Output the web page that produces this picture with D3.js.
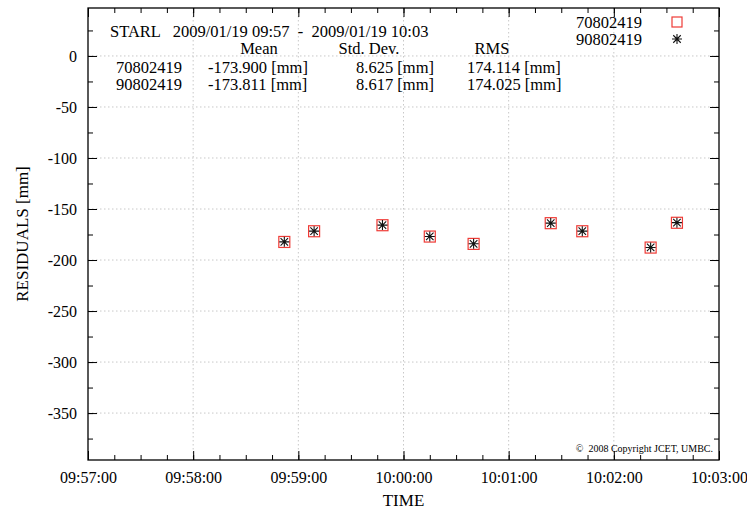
<!DOCTYPE html>
<html lang="en">
<head>
    <meta charset="UTF-8">
    <script src="https://cdn.jsdelivr.net/npm/d3@7"></script>
    <title>STARL residuals</title>
    <style>
        body { margin: 0; background: #ffffff; }
        svg { font-family: "Liberation Serif", "DejaVu Serif", serif; }
        .grid line { stroke: #c8c8c8; stroke-dasharray: 1.5 2.5; }
        .axis path, .axis line { stroke: #000; }
    </style>
</head>
<body>
<svg width="747" height="509"></svg>
<script>
    const WIDTH = 747;
    const HEIGHT = 509;
    const LEFT = 88, RIGHT = 719, TOP = 8, BOTTOM = 460;

    // observation times and residuals (mm) for the two passes
    const times = ["09:58:52", "09:59:09", "09:59:48", "10:00:15", "10:00:40",
                   "10:01:24", "10:01:42", "10:02:21", "10:02:36"];
    const res70802419 = [-182.3, -171.8, -165.9, -177.0, -184.2, -163.9, -171.8, -187.8, -163.5];
    const res90802419 = [-182.2, -171.7, -165.8, -176.9, -184.1, -163.8, -171.7, -187.7, -163.4];

    const series = ["70802419", "90802419"];
    const means = ["-173.900 [mm]", "-173.811 [mm]"];
    const stdDevs = ["8.625 [mm]", "8.617 [mm]"];
    const rmsValues = ["174.114 [mm]", "174.025 [mm]"];

    const xTicks = ["09:57:00", "09:58:00", "09:59:00", "10:00:00", "10:01:00", "10:02:00", "10:03:00"];
    const yTicks = [0, -50, -100, -150, -200, -250, -300, -350];

    const parseT = d3.utcParse("%H:%M:%S");
    const SERIF = "'Liberation Serif', 'DejaVu Serif', serif";

    function init() {
        const svg = d3.select("svg");
        const [x, y] = makeScales();
        drawGrid(svg, x, y);
        drawAxes(svg, x, y);
        drawPoints(svg, x, y);
        drawTexts(svg);
    }

    function makeScales() {
        const x = d3.scaleUtc()
            .domain([parseT(xTicks[0]), parseT(xTicks[xTicks.length - 1])])
            .range([LEFT, RIGHT]);
        const y = d3.scaleLinear()
            .domain([-396, 47])
            .range([BOTTOM, TOP]);
        return [x, y];
    }

    function drawGrid(svg, x, y) {
        const g = svg.append("g").attr("class", "grid");
        g.selectAll("line.v")
            .data(xTicks.slice(1, -1))
            .enter().append("line")
            .attr("x1", d => x(parseT(d))).attr("x2", d => x(parseT(d)))
            .attr("y1", TOP).attr("y2", BOTTOM);
        g.selectAll("line.h")
            .data(yTicks)
            .enter().append("line")
            .attr("x1", LEFT).attr("x2", RIGHT)
            .attr("y1", d => y(d)).attr("y2", d => y(d));
    }

    function serifLabels(g) {
        g.attr("font-family", SERIF).attr("font-size", 16);
        g.selectAll("text")
            .attr("fill", "#000")
            .style("font-family", SERIF)
            .style("font-size", "16px");
    }

    function drawAxes(svg, x, y) {
        const fmt = d3.utcFormat("%H:%M:%S");
        const majorX = xTicks.map(parseT);
        const minorX = d3.utcSecond.every(15).range(majorX[0], majorX[majorX.length - 1]);
        const minorY = d3.range(-375, 47, 25);

        const bottom = svg.append("g").attr("class", "axis")
            .attr("transform", `translate(0,${BOTTOM})`);
        bottom.call(d3.axisBottom(x).tickValues(minorX).tickSize(-5).tickFormat(""));
        bottom.call(g => g.select(".domain").remove());
        bottom.append("g")
            .call(d3.axisBottom(x).tickValues(majorX).tickSize(-9).tickPadding(12).tickFormat(fmt))
            .call(g => g.select(".domain").remove())
            .call(serifLabels);

        const top = svg.append("g").attr("class", "axis")
            .attr("transform", `translate(0,${TOP})`);
        top.call(d3.axisTop(x).tickValues(minorX).tickSize(-5).tickFormat(""))
            .call(g => g.select(".domain").remove());
        top.append("g")
            .call(d3.axisTop(x).tickValues(majorX).tickSize(-9).tickFormat(""))
            .call(g => g.select(".domain").remove());

        const left = svg.append("g").attr("class", "axis")
            .attr("transform", `translate(${LEFT},0)`);
        left.call(d3.axisLeft(y).tickValues(minorY).tickSize(-5).tickFormat(""))
            .call(g => g.select(".domain").remove());
        left.append("g")
            .call(d3.axisLeft(y).tickValues(yTicks).tickSize(-9).tickPadding(11).tickFormat(d3.format("d")))
            .call(g => g.select(".domain").remove())
            .call(g => g.selectAll("text").text(d => d === 0 ? "0" : "-" + Math.abs(d)))
            .call(serifLabels);

        const right = svg.append("g").attr("class", "axis")
            .attr("transform", `translate(${RIGHT},0)`);
        right.call(d3.axisRight(y).tickValues(minorY).tickSize(-5).tickFormat(""))
            .call(g => g.select(".domain").remove());
        right.append("g")
            .call(d3.axisRight(y).tickValues(yTicks).tickSize(-9).tickFormat(""))
            .call(g => g.select(".domain").remove());

        svg.append("rect")
            .attr("x", LEFT).attr("y", TOP)
            .attr("width", RIGHT - LEFT).attr("height", BOTTOM - TOP)
            .attr("fill", "none").attr("stroke", "#000").attr("stroke-width", 1.3);

        svg.append("text")
            .attr("x", (LEFT + RIGHT) / 2).attr("y", 506)
            .attr("text-anchor", "middle").attr("font-size", 17)
            .text("TIME");
        svg.append("text")
            .attr("transform", `translate(28,${(TOP + BOTTOM) / 2}) rotate(-90)`)
            .attr("text-anchor", "middle").attr("font-size", 17)
            .text("RESIDUALS [mm]");
    }

    function square(g, s) {
        g.append("rect")
            .attr("x", -s / 2).attr("y", -s / 2)
            .attr("width", s).attr("height", s)
            .attr("fill", "none").attr("stroke", "#ef3b36").attr("stroke-width", 1.2);
    }

    function asterisk(g, r) {
        const d = r * 0.75;
        const path = `M${-r},0H${r}M0,${-r}V${r}M${-d},${-d}L${d},${d}M${-d},${d}L${d},${-d}`;
        g.append("path").attr("d", path)
            .attr("stroke", "#111").attr("stroke-width", 1.1).attr("fill", "none");
    }

    function drawPoints(svg, x, y) {
        const pts70 = times.map((t, i) => ({t: parseT(t), v: res70802419[i]}));
        const pts90 = times.map((t, i) => ({t: parseT(t), v: res90802419[i]}));

        svg.append("g").selectAll("g")
            .data(pts70).enter().append("g")
            .attr("transform", d => `translate(${x(d.t)},${y(d.v)})`)
            .each(function () { square(d3.select(this), 11); });

        svg.append("g").selectAll("g")
            .data(pts90).enter().append("g")
            .attr("transform", d => `translate(${x(d.t)},${y(d.v)})`)
            .each(function () { asterisk(d3.select(this), 5); });
    }

    function drawTexts(svg) {
        const fs = 16.5;
        svg.append("text")
            .attr("x", 110).attr("y", 37).attr("font-size", fs)
            .style("white-space", "pre")
            .text("STARL   2009/01/19 09:57  -  2009/01/19 10:03");

        const head = svg.append("g").attr("font-size", fs);
        head.append("text").attr("x", 259).attr("y", 54).attr("text-anchor", "middle").text("Mean");
        head.append("text").attr("x", 369).attr("y", 54).attr("text-anchor", "middle").text("Std. Dev.");
        head.append("text").attr("x", 492).attr("y", 54).attr("text-anchor", "middle").text("RMS");

        const rows = svg.append("g").attr("font-size", fs)
            .selectAll("g").data(series).enter().append("g")
            .attr("transform", (d, i) => `translate(0,${73 + i * 17})`);
        rows.append("text").attr("x", 116).text(d => d);
        rows.append("text").attr("x", 208).text((d, i) => means[i]);
        rows.append("text").attr("x", 434).attr("text-anchor", "end").text((d, i) => stdDevs[i]);
        rows.append("text").attr("x", 467).text((d, i) => rmsValues[i]);

        // legend
        const leg = svg.append("g").attr("font-size", fs);
        leg.append("text").attr("x", 642).attr("y", 28).attr("text-anchor", "end").text(series[0]);
        leg.append("text").attr("x", 642).attr("y", 45).attr("text-anchor", "end").text(series[1]);
        square(leg.append("g").attr("transform", "translate(677,22)"), 10);
        asterisk(leg.append("g").attr("transform", "translate(677,39)"), 5);

        svg.append("text")
            .attr("x", 713).attr("y", 452).attr("text-anchor", "end")
            .attr("font-size", 10)
            .style("white-space", "pre")
            .text("\u00a9  2008 Copyright JCET, UMBC.");
    }

    init();
</script>
</body>
</html>
